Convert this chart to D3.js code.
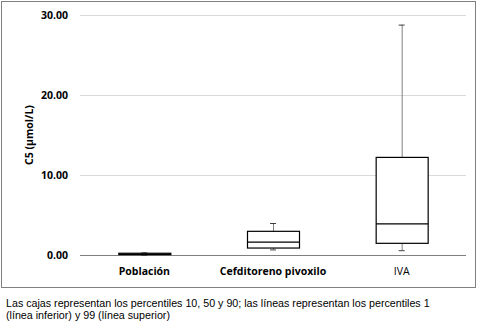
<!DOCTYPE html>
<html>
<head>
<meta charset="utf-8">
<script src="https://cdn.jsdelivr.net/npm/d3@7"></script>
<style>
  body { margin: 0; background: #fff; }
  svg { display: block; }
  .caption { font-family: "Liberation Sans", Arial, sans-serif; font-size: 10.7px; fill: #000; }
</style>
</head>
<body>
<div id="chart"></div>
<script>
// percentiles 1, 10, 50, 90, 99 per group
var categories = ["Población", "Cefditoreno pivoxilo", "IVA"];
var p1  = [0.03, 0.7, 0.6];
var p10 = [0.05, 0.87, 1.46];
var p50 = [0.12, 1.6, 3.9];
var p90 = [0.22, 2.96, 12.2];
var p99 = [0.33, 4.0, 28.8];
var yTicks = [0, 10, 20, 30];

var data = categories.map(function(c, i) {
  return {name: c, lo: p1[i], q1: p10[i], med: p50[i], q3: p90[i], hi: p99[i]};
});

var W = 482, H = 326;
var margin = {top: 15, right: 16, bottom: 71, left: 80},
    width = W - margin.left - margin.right,
    height = H - margin.top - margin.bottom;

var svg = d3.select("#chart").append("svg")
    .attr("width", W)
    .attr("height", H);

// frame round the chart
svg.append("rect")
    .attr("x", 1.5).attr("y", 1.5)
    .attr("width", 474).attr("height", 286)
    .attr("fill", "none")
    .attr("stroke", "#808080");

var g = svg.append("g")
    .attr("transform", "translate(" + margin.left + "," + margin.top + ")");

var x = d3.scaleBand()
    .domain(categories)
    .range([0, width]);

var y = d3.scaleLinear()
    .domain([0, 30])
    .range([height, 0]);

// grid
g.append("g")
    .selectAll("line").data(yTicks.slice(1)).enter().append("line")
    .attr("x1", 0).attr("x2", width)
    .attr("y1", function(d) { return y(d) + 0.5; })
    .attr("y2", function(d) { return y(d) + 0.5; })
    .attr("stroke", "#d9d9d9");

var yAxis = g.append("g")
    .call(d3.axisLeft(y).tickValues(yTicks).tickFormat(d3.format(".2f")).tickSize(0).tickPadding(12));
yAxis.select(".domain").remove();
yAxis.selectAll("text")
    .style("font-family", "'Open Sans', sans-serif")
    .style("font-weight", "bold")
    .style("font-size", "10.5px")
    .attr("fill", "#000");

// x axis line
g.append("line")
    .attr("x1", 0).attr("x2", width)
    .attr("y1", height + 0.5).attr("y2", height + 0.5)
    .attr("stroke", "#7f7f7f");

var xAxis = g.append("g")
    .attr("transform", "translate(0," + height + ")")
    .call(d3.axisBottom(x).tickSize(0).tickPadding(13));
xAxis.select(".domain").remove();
xAxis.selectAll("text")
    .style("font-family", "'Open Sans', sans-serif")
    .style("font-size", "10.5px")
    .style("font-weight", function(d) { return d === "IVA" ? "normal" : "bold"; })
    .attr("fill", "#000");

var boxW = 52, capW = 6;

var box = g.selectAll(".box").data(data).enter().append("g")
    .attr("class", "box")
    .attr("transform", function(d) { return "translate(" + (x(d.name) + x.bandwidth() / 2) + ",0)"; });

// whiskers
box.append("line")
    .attr("x1", 0.5).attr("x2", 0.5)
    .attr("y1", function(d) { return y(d.q3); })
    .attr("y2", function(d) { return y(d.hi); })
    .attr("stroke", "#808080");
box.append("line")
    .attr("x1", 0.5).attr("x2", 0.5)
    .attr("y1", function(d) { return y(d.q1); })
    .attr("y2", function(d) { return y(d.lo); })
    .attr("stroke", "#808080");
box.append("line")
    .attr("x1", -capW / 2).attr("x2", capW / 2)
    .attr("y1", function(d) { return y(d.hi) + 0.5; })
    .attr("y2", function(d) { return y(d.hi) + 0.5; })
    .attr("stroke", "#404040");
box.append("line")
    .attr("x1", -capW / 2).attr("x2", capW / 2)
    .attr("y1", function(d) { return y(d.lo) + 0.5; })
    .attr("y2", function(d) { return y(d.lo) + 0.5; })
    .attr("stroke", "#404040");

// boxes
box.append("rect")
    .attr("x", -boxW / 2 + 0.5)
    .attr("width", boxW)
    .attr("y", function(d) { return y(d.q3); })
    .attr("height", function(d) { return y(d.q1) - y(d.q3); })
    .attr("fill", "#fff")
    .attr("stroke", "#000")
    .attr("stroke-width", 1.2);
box.append("line")
    .attr("x1", -boxW / 2 + 0.5).attr("x2", boxW / 2 + 0.5)
    .attr("y1", function(d) { return y(d.med); })
    .attr("y2", function(d) { return y(d.med); })
    .attr("stroke", "#000")
    .attr("stroke-width", 1.2);

// y label
svg.append("text")
    .attr("transform", "translate(33," + (margin.top + height / 2) + ") rotate(-90)")
    .attr("text-anchor", "middle")
    .style("font-family", "'Open Sans', sans-serif")
    .style("font-weight", "bold")
    .style("font-size", "10.5px")
    .text("C5 (µmol/L)");

// caption
svg.append("text").attr("class", "caption").attr("x", 6).attr("y", 307)
    .text("Las cajas representan los percentiles 10, 50 y 90; las líneas representan los percentiles 1");
svg.append("text").attr("class", "caption").attr("x", 6).attr("y", 319)
    .text("(línea inferior) y 99 (línea superior)");
</script>
</body>
</html>
